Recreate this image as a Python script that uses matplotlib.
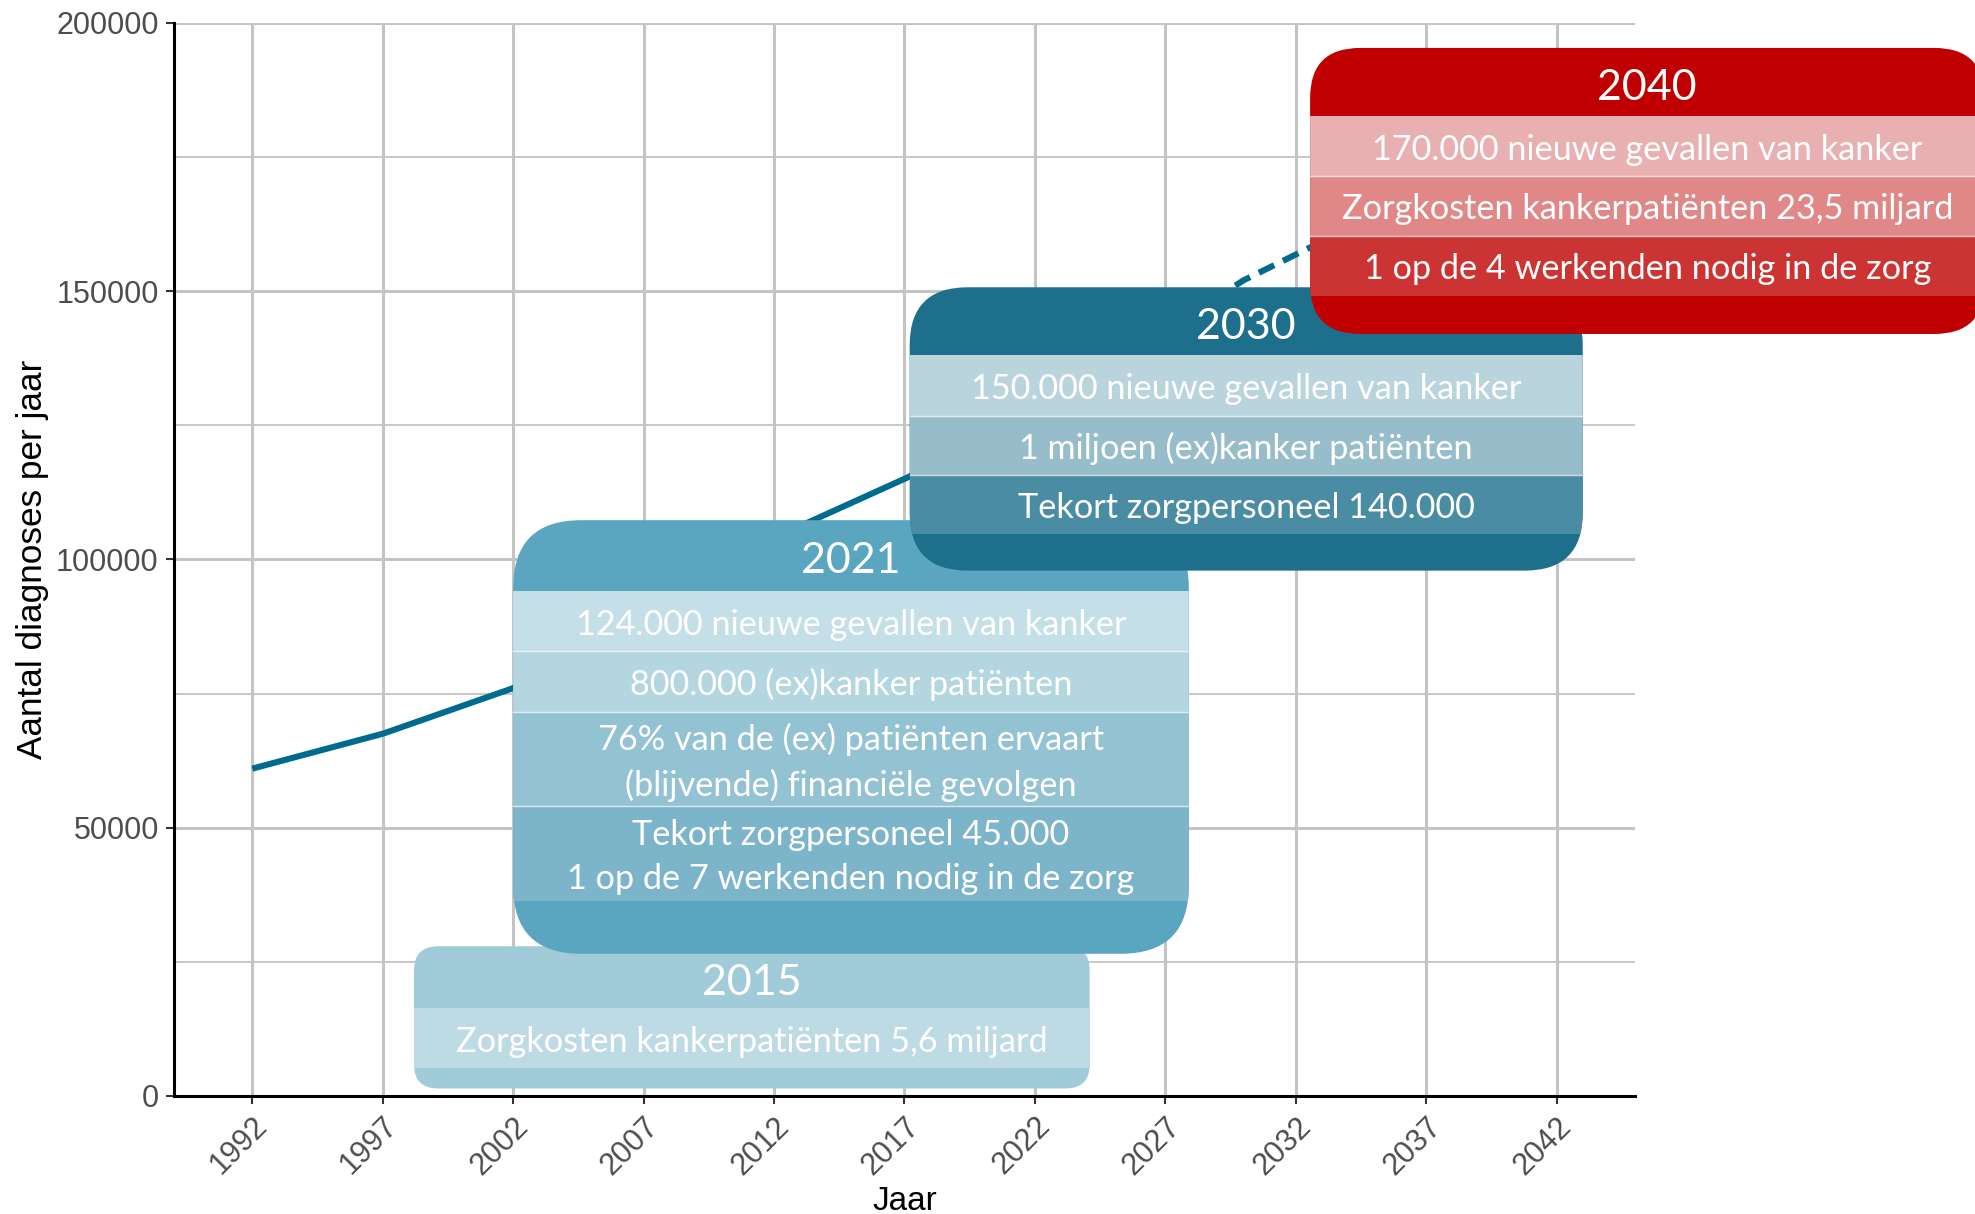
import numpy as np
import matplotlib
matplotlib.use("Agg")
import matplotlib.pyplot as plt
from matplotlib.patches import FancyBboxPatch, Rectangle

# line data
years_obs = [1992, 1997, 2002, 2007, 2012, 2017, 2021]
cases_obs = [61000, 67500, 76000, 90000, 104000, 115000, 124000]
years_proj = [2021, 2030, 2035, 2040]
cases_proj = [124000, 152000, 164000, 175000]

x_ticks = [1992, 1997, 2002, 2007, 2012, 2017, 2022, 2027, 2032, 2037, 2042]
y_ticks = [0, 50000, 100000, 150000, 200000]

# box contents
box_titles = ["2015", "2021", "2030", "2040"]
box_lines = [
    ["Zorgkosten kankerpatiënten 5,6 miljard"],
    ["124.000 nieuwe gevallen van kanker",
     "800.000 (ex)kanker patiënten",
     "76% van de (ex) patiënten ervaart\n(blijvende) financiële gevolgen",
     "Tekort zorgpersoneel 45.000\n1 op de 7 werkenden nodig in de zorg"],
    ["150.000 nieuwe gevallen van kanker",
     "1 miljoen (ex)kanker patiënten",
     "Tekort zorgpersoneel 140.000"],
    ["170.000 nieuwe gevallen van kanker",
     "Zorgkosten kankerpatiënten 23,5 miljard",
     "1 op de 4 werkenden nodig in de zorg"],
]

# box styling / layout (data coords)
box_header_col = ["#a2cbd9", "#5aa5bf", "#1e6f8c", "#c00000"]
box_band_cols = [
    ["#bedbe5"],
    ["#c4dfe8", "#b3d6e0", "#93c3d3", "#7cb5ca"],
    ["#bad4dd", "#97bdca", "#4a8ca3"],
    ["#e8b0b0", "#e08888", "#cc3333"],
]
box_x = [(1998.2, 2024.1), (2002.0, 2027.9), (2017.2, 2043.0), (2032.55, 2058.4)]
box_top = [27900, 107300, 150700, 195300]
box_bottom = [1400, 26500, 97900, 142000]
box_edges = [
    [16400, 5200],
    [94100, 82900, 71600, 54000, 36400],
    [138000, 126800, 115700, 104700],
    [182600, 171400, 160300, 149100],
]
box_radius_px = [24, 68, 58, 50]

line_col = "#006b8f"
grid_col = "#c4c4c4"

fig = plt.figure(figsize=(19.75, 12.14), dpi=100)
ax = fig.add_axes([0.0881, 0.0972, 0.8278 - 0.0881, 0.9813 - 0.0972])
ax.set_xlim(1989, 2045)
ax.set_ylim(0, 200000)

ax.plot(years_obs, cases_obs, color=line_col, lw=4.4, solid_capstyle="butt", zorder=2)
ax.plot(years_proj, cases_proj, color=line_col, lw=4.4, dashes=(2.8, 1.6), zorder=2)

ax.set_xticks(x_ticks)
ax.set_yticks(y_ticks)
ax.set_yticks([25000, 75000, 125000, 175000], minor=True)
ax.set_xticklabels([str(t) for t in x_ticks], rotation=45, ha="right", va="top",
                   rotation_mode="anchor")
ax.set_yticklabels([str(t) for t in y_ticks])
ax.tick_params(axis="both", which="major", length=6, width=1.5, color="#333333",
               labelsize=22, labelcolor="#4d4d4d", pad=5)
ax.tick_params(axis="y", which="minor", length=0)
for lab in ax.get_xticklabels() + ax.get_yticklabels():
    lab.set_fontfamily("Liberation Sans")
ax.grid(True, which="major", color=grid_col, lw=2.2, zorder=0)
ax.grid(True, which="minor", axis="y", color=grid_col, lw=1.3, zorder=0)
ax.set_axisbelow(True)
for s in ["top", "right"]:
    ax.spines[s].set_visible(False)
for s in ["left", "bottom"]:
    ax.spines[s].set_linewidth(2.2)
    ax.spines[s].set_color("black")

ax.set_xlabel("Jaar", fontsize=24, family="Liberation Sans", labelpad=4)
ax.set_ylabel("Aantal diagnoses per jaar", fontsize=25.3, family="Liberation Sans",
              labelpad=5)

# aspect for round corners
p0 = ax.transData.transform((2000, 0))
p1 = ax.transData.transform((2001, 1))
sx = p1[0] - p0[0]
sy = p1[1] - p0[1]

for i, title in enumerate(box_titles):
    z = 3 + 3 * i
    x0, x1 = box_x[i]
    top, bot = box_top[i], box_bottom[i]
    r = box_radius_px[i] / sx
    outer = FancyBboxPatch((x0, bot), x1 - x0, top - bot,
                           boxstyle=f"round,pad=0,rounding_size={r}",
                           mutation_aspect=sx / sy,
                           fc=box_header_col[i], ec="none", clip_on=False, zorder=z)
    ax.add_patch(outer)
    edges = box_edges[i]
    for j, col in enumerate(box_band_cols[i]):
        rect = Rectangle((x0, edges[j + 1]), x1 - x0, edges[j] - edges[j + 1],
                         fc=col, ec="none", zorder=z + 0.1)
        rect.set_clip_path(outer)
        ax.add_patch(rect)
        ax.annotate(box_lines[i][j], ((x0 + x1) / 2, (edges[j] + edges[j + 1]) / 2),
                    xytext=(0, -2.5), textcoords="offset points",
                    ha="center", va="center", color="white", fontsize=24.7,
                    family="Lato", linespacing=1.47, zorder=z + 0.3,
                    annotation_clip=False)
    for e in edges[1:-1]:
        ax.plot([x0, x1], [e, e], color="white", lw=1, alpha=0.7,
                zorder=z + 0.2, clip_on=False)
    ax.annotate(title, ((x0 + x1) / 2, (top + edges[0]) / 2),
                xytext=(0, -4), textcoords="offset points",
                ha="center", va="center", color="white", fontsize=31,
                family="Lato", zorder=z + 0.3, annotation_clip=False)

fig.savefig("out.png", dpi=100)
